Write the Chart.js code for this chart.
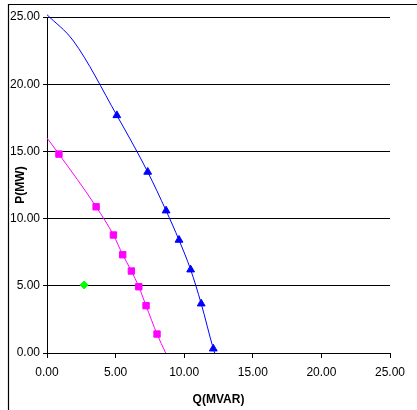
<!DOCTYPE html>
<html>
<head>
<meta charset="utf-8">
<script src="https://cdn.jsdelivr.net/npm/chart.js@4/dist/chart.umd.min.js"></script>
<style>
  html, body { margin: 0; padding: 0; background: #fff; }
  canvas { display: block; }
</style>
</head>
<body>
<canvas id="pqChart" width="417" height="410"></canvas>
<script>
// Curve 1 (blue): traced line and measured points (triangles)
const blueLineQ = [0, 1.93, 5.09, 7.34, 8.68, 9.62, 10.47, 11.24, 12.12, 12.22];
const blueLineP = [25.17, 23.21, 17.68, 13.47, 10.59, 8.41, 6.20, 3.67, 0.32, 0];
const blueQ = [5.09, 7.34, 8.68, 9.62, 10.47, 11.24, 12.12];
const blueP = [17.68, 13.47, 10.59, 8.41, 6.20, 3.67, 0.32];
// Curve 2 (magenta): traced line and measured points (squares)
const magLineQ = [0, 0.87, 3.58, 4.84, 5.52, 6.15, 6.69, 7.22, 8.02, 8.65];
const magLineP = [16.0, 14.8, 10.88, 8.78, 7.31, 6.10, 4.93, 3.52, 1.41, 0];
const magQ = [0.87, 3.58, 4.84, 5.52, 6.15, 6.69, 7.22, 8.02];
const magP = [14.8, 10.88, 8.78, 7.31, 6.10, 4.93, 3.52, 1.41];
// Single operating point (green)
const opQ = [2.71];
const opP = [5.06];
// Axis ticks
const xTicks = [0, 5, 10, 15, 20, 25];
const yTicks = [0, 5, 10, 15, 20, 25];

function toPoints(xs, ys) {
    return xs.map((x, i) => ({ x: x, y: ys[i] }));
}

function lineSet(xs, ys, color) {
    return {
        data: toPoints(xs, ys),
        showLine: true,
        borderColor: color,
        borderWidth: 1,
        cubicInterpolationMode: 'monotone',
        pointRadius: 0,
        clip: false
    };
}

function markerSet(xs, ys, color, style, r) {
    return {
        data: toPoints(xs, ys),
        showLine: false,
        borderColor: color,
        backgroundColor: color,
        pointStyle: style,
        pointRadius: r,
        pointBorderWidth: 1,
        clip: false
    };
}

// outer chart frame (only left/top edges are in view)
const framePlugin = {
    id: 'frame',
    beforeDraw(chart) {
        const ctx = chart.ctx;
        ctx.save();
        ctx.strokeStyle = '#000';
        ctx.lineWidth = 1.2;
        ctx.beginPath();
        ctx.moveTo(8.5, 412);
        ctx.lineTo(8.5, 4.5);
        ctx.lineTo(420, 4.5);
        ctx.stroke();
        ctx.restore();
    }
};

function initChart() {
    const ctx = document.getElementById('pqChart');
    const font = { family: 'Arial, "Liberation Sans", sans-serif', size: 12 };

    new Chart(ctx, {
        type: 'scatter',
        data: {
            datasets: [
                lineSet(blueLineQ, blueLineP, '#0000ff'),
                lineSet(magLineQ, magLineP, '#ff00ff'),
                markerSet(blueQ, blueP, '#0000ff', 'triangle', 4.5),
                markerSet(magQ, magP, '#ff00ff', 'rect', 4.5),
                markerSet(opQ, opP, '#00ff00', 'rectRot', 4)
            ]
        },
        options: {
            responsive: false,
            animation: false,
            devicePixelRatio: 1,
            layout: { padding: { top: 17, right: 27, left: 0, bottom: 0 } },
            plugins: {
                legend: { display: false },
                tooltip: { enabled: false }
            },
            scales: {
                x: {
                    type: 'linear',
                    min: 0,
                    max: 25,
                    afterBuildTicks: (axis) => { axis.ticks = xTicks.map(v => ({ value: v })); },
                    afterFit: (axis) => { axis.height = 57; },
                    ticks: {
                        color: '#000',
                        font: font,
                        padding: 7,
                        maxRotation: 0,
                        callback: (v) => Number(v).toFixed(2)
                    },
                    grid: {
                        drawOnChartArea: false,
                        drawTicks: true,
                        tickLength: 5,
                        color: '#000'
                    },
                    border: { display: true, color: '#000', width: 1 },
                    title: {
                        display: true,
                        text: 'Q(MVAR)',
                        color: '#000',
                        font: { family: font.family, size: 12, weight: 'bold' },
                        padding: { top: 0, bottom: 3 }
                    }
                },
                y: {
                    type: 'linear',
                    min: 0,
                    max: 25,
                    afterBuildTicks: (axis) => { axis.ticks = yTicks.map(v => ({ value: v })); },
                    afterFit: (axis) => { axis.width = 47; },
                    ticks: {
                        color: '#000',
                        font: font,
                        padding: 3,
                        callback: (v) => Number(v).toFixed(2)
                    },
                    grid: {
                        drawOnChartArea: true,
                        drawTicks: true,
                        tickLength: 4,
                        color: '#000',
                        lineWidth: 1
                    },
                    border: { display: true, color: '#000', width: 1 },
                    title: {
                        display: true,
                        text: 'P(MW)',
                        color: '#000',
                        font: { family: font.family, size: 12, weight: 'bold' },
                        padding: { top: 13, bottom: 0 }
                    }
                }
            }
        },
        plugins: [framePlugin]
    });
}

document.addEventListener('DOMContentLoaded', initChart);
</script>
</body>
</html>
